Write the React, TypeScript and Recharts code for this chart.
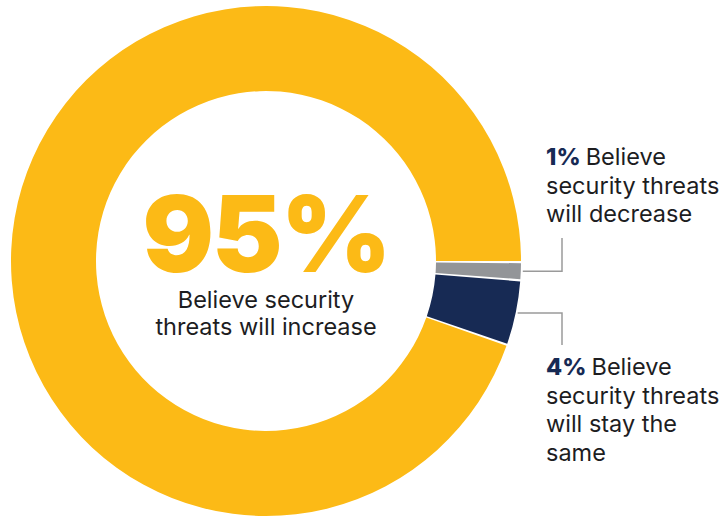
import { PieChart, Pie, Cell } from 'recharts'

// share of respondents, clockwise from 3 o'clock
const names = ['decrease', 'same', 'increase']
const values = [1, 4, 95]
const colors = ['#939598', '#172a54', '#fcba16']
const labelLines = [
  ['Believe', 'security threats', 'will decrease'],
  ['Believe', 'security threats', 'will stay the', 'same'],
]
const centerLines = ['Believe security', 'threats will increase']

const data = names.map((name, i) => ({ name, value: values[i] }))

const FONT = 'Inter, "Noto Sans", sans-serif'
const RAD = Math.PI / 180
const TEXT_SIZE = 23.5

function SliceLabel(props: any) {
  const { cx, cy, midAngle, outerRadius, index, value } = props
  if (index === 2) {
    return (
      <g fontFamily={FONT}>
        <text x={cx} y={cy + 11} textAnchor="middle" fontSize={106} fontWeight={900} fill={colors[2]} letterSpacing={-2}>
          {value}%
        </text>
        {centerLines.map((t, i) => (
          <text key={t} x={cx} y={cy + 47 + i * 27} textAnchor="middle" fontSize={TEXT_SIZE} fill="#1d1d1f">
            {t}
          </text>
        ))}
      </g>
    )
  }
  const sx = cx + outerRadius * Math.cos(-midAngle * RAD)
  const sy = cy + outerRadius * Math.sin(-midAngle * RAD)
  const ex = cx + outerRadius + 41
  const up = index === 0
  const ey = up ? cy - 23 : cy + 84
  const tx = cx + outerRadius + 25
  const lines = labelLines[index]
  const firstY = up ? cy - 96 : cy + 114
  return (
    <g fontFamily={FONT}>
      <polyline points={`${sx + 2},${sy} ${ex},${sy} ${ex},${ey}`} fill="none" stroke="#9a9a9a" strokeWidth={1.5} />
      {lines.map((t, i) => (
        <text key={i} x={tx} y={firstY + i * 28.6} fontSize={TEXT_SIZE} fill="#1d1d1f">
          {i === 0 && (
            <tspan fontWeight={800} fill={colors[1]}>{value}% </tspan>
          )}
          {t}
        </text>
      ))}
    </g>
  )
}

export default function App() {
  return (
    <div style={{ position: 'absolute', left: 0, top: 0, background: '#fff' }}>
      <PieChart width={724} height={517} margin={{ top: 0, right: 0, bottom: 0, left: 0 }}>
        <Pie
          data={data}
          dataKey="value"
          nameKey="name"
          cx={266}
          cy={261}
          innerRadius={170}
          outerRadius={255}
          startAngle={-0.5}
          endAngle={-360.5}
          paddingAngle={0.5}
          stroke="none"
          labelLine={false}
          label={SliceLabel}
          isAnimationActive={false}
        >
          {data.map((d, i) => (
            <Cell key={d.name} fill={colors[i]} />
          ))}
        </Pie>
      </PieChart>
    </div>
  )
}
